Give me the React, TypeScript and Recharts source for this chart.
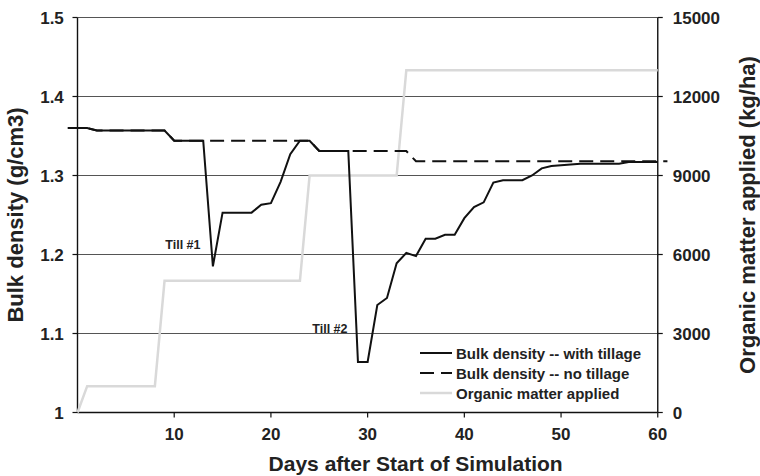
import React from 'react';
import { LineChart, Line, XAxis, YAxis, ReferenceLine, ReferenceDot, Legend } from 'recharts';

const FONT = '"Liberation Sans", Arial, Helvetica, sans-serif';
const TEXT = '#222';

// Days after start of simulation (-1 and 61 are the small overhangs drawn past the axes)
const days = [
  -1, 0, 1, 2, 3, 4, 5, 6, 7, 8, 9, 10, 11, 12, 13, 14, 15, 16, 17, 18, 19, 20,
  21, 22, 23, 24, 25, 26, 27, 28, 29, 30, 31, 32, 33, 34, 35, 36, 37, 38, 39, 40,
  41, 42, 43, 44, 45, 46, 47, 48, 49, 50, 51, 52, 53, 54, 55, 56, 57, 58, 59, 60, 61,
];

const withTillage: (number | null)[] = [
  1.36, 1.36, 1.36, 1.357, 1.357, 1.357, 1.357, 1.357, 1.357, 1.357, 1.357, 1.344, 1.344, 1.344, 1.344, 1.185, 1.253, 1.253, 1.253, 1.253, 1.263, 1.265,
  1.292, 1.327, 1.344, 1.344, 1.331, 1.331, 1.331, 1.331, 1.064, 1.064, 1.136, 1.145, 1.189, 1.202, 1.198, 1.22, 1.22, 1.225, 1.225, 1.246,
  1.26, 1.266, 1.291, 1.294, 1.294, 1.294, 1.3, 1.309, 1.312, 1.313, 1.314, 1.315, 1.315, 1.315, 1.315, 1.315, 1.317, 1.317, 1.317, 1.317, null,
];

const noTillage: (number | null)[] = [
  1.36, 1.36, 1.36, 1.357, 1.357, 1.357, 1.357, 1.357, 1.357, 1.357, 1.357, 1.344, 1.344, 1.344, 1.344, 1.344, 1.344, 1.344, 1.344, 1.344, 1.344, 1.344,
  1.344, 1.344, 1.344, 1.344, 1.331, 1.331, 1.331, 1.331, 1.331, 1.331, 1.331, 1.331, 1.331, 1.331, 1.318, 1.318, 1.318, 1.318, 1.318, 1.318,
  1.318, 1.318, 1.318, 1.318, 1.318, 1.318, 1.318, 1.318, 1.318, 1.318, 1.318, 1.318, 1.318, 1.318, 1.318, 1.318, 1.318, 1.318, 1.318, 1.318, 1.318,
];

const organicMatter: (number | null)[] = [
  null, 0, 1000, 1000, 1000, 1000, 1000, 1000, 1000, 1000, 5000, 5000, 5000, 5000, 5000, 5000, 5000, 5000, 5000, 5000, 5000, 5000,
  5000, 5000, 5000, 9000, 9000, 9000, 9000, 9000, 9000, 9000, 9000, 9000, 9000, 13000, 13000, 13000, 13000, 13000, 13000, 13000,
  13000, 13000, 13000, 13000, 13000, 13000, 13000, 13000, 13000, 13000, 13000, 13000, 13000, 13000, 13000, 13000, 13000, 13000, 13000, 13000, null,
];

const seriesNames = ['Bulk density -- with tillage', 'Bulk density -- no tillage', 'Organic matter applied'];

const xTicks = [10, 20, 30, 40, 50, 60];
const leftTicks = [1, 1.1, 1.2, 1.3, 1.4, 1.5];
const rightTicks = [0, 3000, 6000, 9000, 12000, 15000];
const gridValues = [1.1, 1.2, 1.3, 1.4, 1.5];

const tillDays = [10.9, 26.1];
const tillValues = [1.212, 1.106];
const tillTexts = ['Till #1', 'Till #2'];

const data = days.map((d, i) => ({
  day: d,
  withTillage: withTillage[i],
  noTillage: noTillage[i],
  organic: organicMatter[i],
}));

const DAY_PX = 9.67;

const tickStyle = { fontFamily: FONT, fontWeight: 'bold', fontSize: 17, fill: TEXT };

const LegendContent = (props: any) => {
  const payload = [...(props.payload || [])].sort(
    (a: any, b: any) => seriesNames.indexOf(a.value) - seriesNames.indexOf(b.value)
  );
  return (
    <div style={{ fontFamily: FONT, fontWeight: 'bold', fontSize: 15, color: TEXT, width: 260 }}>
      {payload.map((e: any, i: number) => (
        <div key={i} style={{ display: 'flex', alignItems: 'center', height: 20, whiteSpace: 'nowrap' }}>
          <svg width={36} height={20} style={{ display: 'block', flex: 'none' }}>
            <line
              x1={0}
              y1={10}
              x2={32}
              y2={10}
              stroke={e.color}
              strokeWidth={(e.payload && e.payload.strokeWidth) || 2}
              strokeDasharray={e.payload && e.payload.strokeDasharray}
            />
          </svg>
          <span>{e.value}</span>
        </div>
      ))}
    </div>
  );
};

const LeftTitle = (props: any) => {
  const vb = props.viewBox || {};
  const x = vb.x + 23;
  const y = vb.y + vb.height / 2;
  return (
    <text
      x={x}
      y={y}
      transform={`rotate(-90, ${x}, ${y})`}
      textAnchor="middle"
      style={{ fontFamily: FONT, fontWeight: 'bold', fontSize: 22, fill: TEXT }}
    >
      Bulk density (g/cm3)
    </text>
  );
};

const RightTitle = (props: any) => {
  const vb = props.viewBox || {};
  const x = vb.x + vb.width - 5;
  const y = vb.y + vb.height / 2;
  return (
    <text
      x={x}
      y={y}
      transform={`rotate(-90, ${x}, ${y})`}
      textAnchor="middle"
      style={{ fontFamily: FONT, fontWeight: 'bold', fontSize: 22, fill: TEXT }}
    >
      Organic matter applied (kg/ha)
    </text>
  );
};

const BottomTitle = (props: any) => {
  const vb = props.viewBox || {};
  const x = vb.x + vb.width / 2 + 48;
  const y = vb.y + vb.height - 5;
  return (
    <text x={x} y={y} textAnchor="middle" style={{ fontFamily: FONT, fontWeight: 'bold', fontSize: 21, fill: TEXT }}>
      Days after Start of Simulation
    </text>
  );
};

export default function App() {
  return (
    <div style={{ position: 'absolute', left: 0, top: 0, width: 760, height: 476, background: '#fff' }}>
      <LineChart width={760} height={476} data={data} margin={{ top: 17.5, right: 0, bottom: 0, left: 0 }}>
        <XAxis
          dataKey="day"
          type="number"
          domain={[-1, 61]}
          ticks={xTicks}
          axisLine={false}
          tickLine={{ stroke: '#111', strokeWidth: 1.2 }}
          tickSize={5}
          tickMargin={10}
          height={63.5}
          tick={tickStyle}
          label={<BottomTitle />}
        />
        <YAxis
          yAxisId="left"
          domain={[1, 1.5]}
          ticks={leftTicks}
          width={67.83}
          axisLine={false}
          tickLine={{ stroke: '#111', strokeWidth: 1.2, transform: `translate(${DAY_PX},0)` } as any}
          tickSize={5}
          tickMargin={-1}
          tick={tickStyle}
          label={<LeftTitle />}
        />
        <YAxis
          yAxisId="right"
          orientation="right"
          domain={[0, 15000]}
          ticks={rightTicks}
          width={92.57}
          axisLine={false}
          tickLine={{ stroke: '#111', strokeWidth: 1.2, transform: `translate(${-DAY_PX},0)` } as any}
          tickSize={5}
          tickMargin={0.3}
          tick={tickStyle}
          label={<RightTitle />}
        />
        {gridValues.map((v) => (
          <ReferenceLine
            key={v}
            yAxisId="left"
            segment={[{ x: 0, y: v }, { x: 60, y: v }]}
            stroke="#555"
            strokeWidth={1}
          />
        ))}
        <ReferenceLine yAxisId="left" segment={[{ x: 0, y: 1 }, { x: 60, y: 1 }]} stroke="#111" strokeWidth={1.6} />
        <ReferenceLine yAxisId="left" x={0} stroke="#111" strokeWidth={1.4} />
        <ReferenceLine yAxisId="left" x={60} stroke="#111" strokeWidth={1.4} />
        <Line
          yAxisId="right"
          dataKey="organic"
          name="Organic matter applied"
          stroke="#d9d9d9"
          strokeWidth={2.5}
          dot={false}
          activeDot={false}
          isAnimationActive={false}
        />
        <Line
          yAxisId="left"
          dataKey="noTillage"
          name="Bulk density -- no tillage"
          stroke="#111"
          strokeWidth={2}
          strokeDasharray="14 7"
          dot={false}
          activeDot={false}
          isAnimationActive={false}
        />
        <Line
          yAxisId="left"
          dataKey="withTillage"
          name="Bulk density -- with tillage"
          stroke="#111"
          strokeWidth={2}
          dot={false}
          activeDot={false}
          isAnimationActive={false}
        />
        {tillTexts.map((t, i) => (
          <ReferenceDot
            key={t}
            yAxisId="left"
            x={tillDays[i]}
            y={tillValues[i]}
            r={0}
            stroke="none"
            fill="none"
            label={{ value: t, position: 'center', style: { fontFamily: FONT, fontWeight: 'bold', fontSize: 12.5, fill: TEXT } }}
          />
        ))}
        <Legend
          content={<LegendContent />}
          wrapperStyle={{ position: 'absolute', left: 420, top: 343, width: 0, height: 0, overflow: 'visible' }}
        />
      </LineChart>
    </div>
  );
}
